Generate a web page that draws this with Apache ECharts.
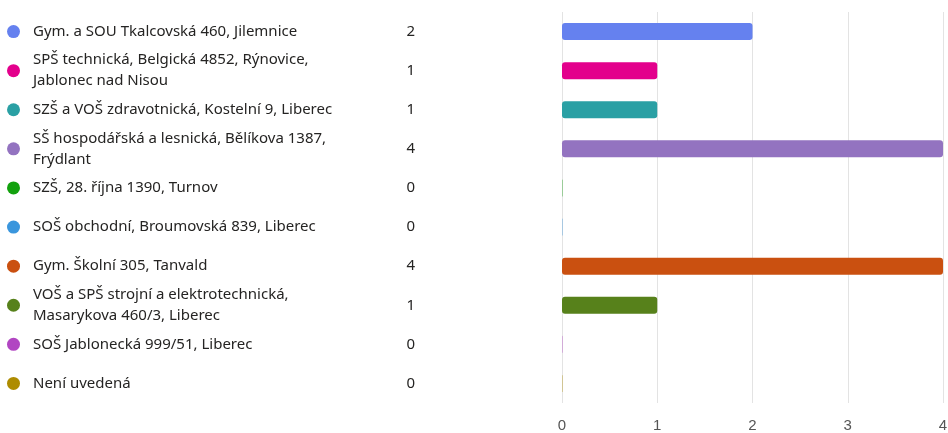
<!DOCTYPE html>
<html>
<head>
<meta charset="utf-8">
<script src="https://cdn.jsdelivr.net/npm/echarts@6/dist/echarts.min.js"></script>
<style>
  html, body { margin: 0; padding: 0; background: #fff; }
  #chart { width: 948px; height: 433px; }
</style>
</head>
<body>
<div id="chart"></div>
<script>
const schools = [
  'Gym. a SOU Tkalcovská 460, Jilemnice',
  'SPŠ technická, Belgická 4852, Rýnovice,\nJablonec nad Nisou',
  'SZŠ a VOŠ zdravotnická, Kostelní 9, Liberec',
  'SŠ hospodářská a lesnická, Bělíkova 1387,\nFrýdlant',
  'SZŠ, 28. října 1390, Turnov',
  'SOŠ obchodní, Broumovská 839, Liberec',
  'Gym. Školní 305, Tanvald',
  'VOŠ a SPŠ strojní a elektrotechnická,\nMasarykova 460/3, Liberec',
  'SOŠ Jablonecká 999/51, Liberec',
  'Není uvedená'
]
const counts = [2, 1, 1, 4, 0, 0, 4, 1, 0, 0]
const colors = [
  '#6581EF', '#E3008C', '#2AA0A4', '#9373C0', '#13A10E',
  '#3A96DD', '#CA5010', '#57811B', '#B146C2', '#AE8C00'
]
const xTicks = [0, 1, 2, 3, 4]

const chart = echarts.init(document.getElementById('chart'))

// one rich style per dot so each gets its own colour
const dotRich = {}
colors.forEach((c, i) => {
  dotRich['d' + i] = { width: 13, height: 13, borderRadius: 6.5, backgroundColor: c }
})

const baseY = {
  type: 'category',
  data: schools,
  inverse: true,
  position: 'left',
  axisLine: { show: false },
  axisTick: { show: false },
  splitLine: { show: false }
}

const option = {
  animation: false,
  backgroundColor: '#fff',
  grid: { left: 562, right: 5, top: 12, bottom: 30, outerBoundsMode: 'none' },
  xAxis: {
    type: 'value',
    min: xTicks[0],
    max: xTicks[xTicks.length - 1],
    interval: 1,
    axisLine: { show: false },
    axisTick: { show: false },
    splitLine: { lineStyle: { color: '#e3e3e3', width: 1 } },
    axisLabel: {
      color: '#555555',
      fontFamily: 'Liberation Sans, Arial, sans-serif',
      fontSize: 15,
      margin: 15
    }
  },
  yAxis: [
    Object.assign({}, baseY, {
      axisLabel: {
        interval: 0,
        align: 'left',
        margin: 529,
        color: '#252423',
        fontFamily: 'Noto Sans, sans-serif',
        fontSize: 15,
        lineHeight: 21,
        padding: [3, 0, 0, 0]
      }
    }),
    Object.assign({}, baseY, {
      axisLabel: {
        interval: 0,
        align: 'left',
        margin: 555,
        formatter: (v, i) => '{d' + i + '| }',
        rich: dotRich
      }
    }),
    Object.assign({}, baseY, {
      axisLabel: {
        interval: 0,
        align: 'right',
        margin: 147,
        color: '#252423',
        fontFamily: 'Noto Sans, sans-serif',
        fontSize: 15,
        padding: [3, 0, 0, 0],
        formatter: (v, i) => String(counts[i])
      }
    })
  ],
  series: [
    {
      type: 'bar',
      yAxisIndex: 0,
      barWidth: 17,
      barMinHeight: 1,
      data: counts.map((v, i) => ({
        value: v,
        itemStyle: {
          color: colors[i],
          opacity: v === 0 ? 0.35 : 1,
          borderRadius: 3
        }
      }))
    }
  ]
}

chart.setOption(option)
</script>
</body>
</html>
